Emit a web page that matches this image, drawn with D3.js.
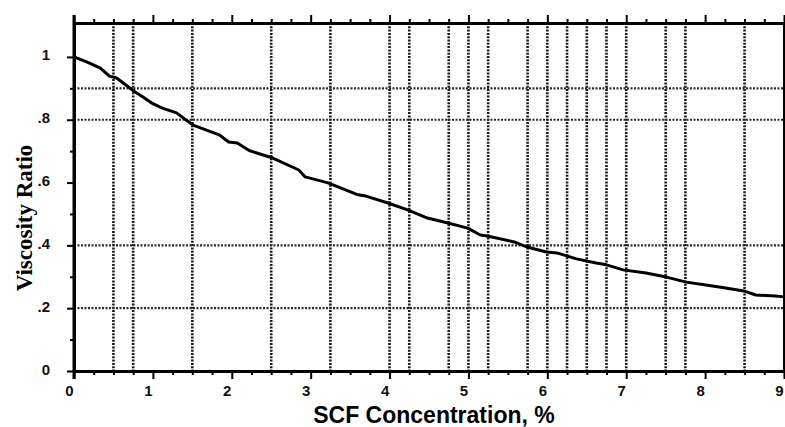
<!DOCTYPE html>
<meta charset="utf-8">
<style>
body { margin: 0; background: #fff; }
.grid { fill: none; stroke: #1a1a1a; stroke-width: 2.6px; stroke-dasharray: 2,1.3; }
.hgrid { fill: none; stroke: #2a2a2a; stroke-width: 2.2px; stroke-dasharray: 2,1.5; }
.curve { fill: none; stroke: #000; stroke-width: 3px; stroke-linejoin: round; }
.axis path, .axis line { stroke: #000; }
.axis path { stroke-width: 3px; }
.axis line { stroke-width: 2px; }
</style>
<body>
<svg id="chart" width="785" height="427"></svg>
</body>
<script src="https://d3js.org/d3.v7.min.js"></script>
<script>

// data
var concentration = [0, 0.16, 0.33, 0.45, 0.54, 0.67, 0.77, 0.87, 0.98, 1.12, 1.30, 1.42, 1.51, 1.67, 1.84, 1.96, 2.07, 2.22,
  2.52, 2.85, 2.93, 3.22, 3.60, 3.70, 3.98, 4.23, 4.48, 4.74, 4.99, 5.15, 5.24, 5.58, 5.74, 5.99, 6.12, 6.37,
  6.62, 6.75, 6.96, 7.25, 7.51, 7.76, 8.01, 8.26, 8.49, 8.64, 8.89, 9.0];
var viscosityRatio = [1.0, .984, .965, .939, .933, .908, .889, .873, .854, .837, .822, .799, .783, .768, .752, .729, .726, .702,
  .678, .640, .618, .599, .561, .557, .535, .513, .487, .471, .455, .433, .430, .411, .395, .379, .376, .357,
  .344, .338, .322, .312, .299, .283, .274, .264, .255, .242, .239, .236];

var xMajor = [0, 1, 2, 3, 4, 5, 6, 7, 8, 9];
var xMinor = [0.25, 0.5, 0.75, 1.25, 1.5, 1.75, 2.25, 2.5, 2.75, 3.25, 3.5, 3.75, 4.25, 4.5, 4.75,
  5.25, 5.5, 5.75, 6.25, 6.5, 6.75, 7.25, 7.5, 7.75, 8.25, 8.5, 8.75];
var xGrid = [0.5, 0.75, 1.5, 2.5, 3.25, 4, 4.25, 4.75, 5, 5.25, 5.75, 6, 6.25, 6.5, 6.75, 7, 7.5, 7.75, 8.5];
var yMajor = [0, 0.2, 0.4, 0.6, 0.8, 1];
var yMinor = [0.1, 0.3, 0.5, 0.7, 0.9];
var yGrid = [0.2, 0.4, 0.8, 0.9];
var yTickLabels = ["0", ".2", ".4", ".6", ".8", "1"];

var plotLeft = 74, plotRight = 784, plotTop = 23, plotBottom = 371;

var x = d3.scaleLinear().domain([0, 9]).range([plotLeft, plotRight]);
var y = d3.scaleLinear().domain([0, 1.108]).range([plotBottom, plotTop]);

var svg = d3.select("#chart");

// grid lines
svg.selectAll(".grid").data(xGrid).enter().append("line")
    .attr("class", "grid")
    .attr("x1", function(d) { return x(d); }).attr("x2", function(d) { return x(d); })
    .attr("y1", plotTop).attr("y2", plotBottom);

svg.selectAll(".hgrid").data(yGrid).enter().append("line")
    .attr("class", "hgrid")
    .attr("x1", plotLeft).attr("x2", plotRight)
    .attr("y1", function(d) { return y(d); }).attr("y2", function(d) { return y(d); });

// the curve
var pts = concentration.map(function(c, i) { return [c, viscosityRatio[i]]; });
var line = d3.line()
    .x(function(d) { return x(d[0]); })
    .y(function(d) { return y(d[1]); });
svg.append("path").datum(pts).attr("class", "curve").attr("d", line);

function labelStyle(sel) {
  sel.selectAll("text")
    .style("font-family", "'Liberation Sans', Arial, sans-serif")
    .style("font-weight", "bold")
    .style("font-size", "15px")
    .style("fill", "#111");
}

// bottom axis
svg.append("g").attr("class", "axis")
    .attr("transform", "translate(0," + plotBottom + ")")
    .call(d3.axisBottom(x).tickValues(xMinor).tickSize(4).tickSizeOuter(0).tickFormat(""));
var xb = svg.append("g").attr("class", "axis")
    .attr("transform", "translate(0," + plotBottom + ")")
    .call(d3.axisBottom(x).tickValues(xMajor).tickSize(8).tickSizeOuter(0).tickFormat(d3.format("d")).tickPadding(6));
xb.selectAll("text").attr("dx", -5);
labelStyle(xb);

// top axis
svg.append("g").attr("class", "axis")
    .attr("transform", "translate(0," + plotTop + ")")
    .call(d3.axisTop(x).tickValues(xMinor).tickSize(4).tickSizeOuter(0).tickFormat(""));
svg.append("g").attr("class", "axis")
    .attr("transform", "translate(0," + plotTop + ")")
    .call(d3.axisTop(x).tickValues(xMajor).tickSize(8).tickSizeOuter(0).tickFormat(""));

// left axis
svg.append("g").attr("class", "axis")
    .attr("transform", "translate(" + plotLeft + ",0)")
    .call(d3.axisLeft(y).tickValues(yMinor).tickSize(4).tickSizeOuter(0).tickFormat(""));
var yl = svg.append("g").attr("class", "axis")
    .attr("transform", "translate(" + plotLeft + ",0)")
    .call(d3.axisLeft(y).tickValues(yMajor).tickSize(7).tickSizeOuter(0)
      .tickFormat(function(d, i) { return yTickLabels[i]; }).tickPadding(17));
yl.selectAll("text").attr("dy", "0.2em");
labelStyle(yl);

// left axis runs past the frame at both ends
svg.append("line").attr("x1", plotLeft).attr("x2", plotLeft).attr("y1", plotTop - 8).attr("y2", plotBottom + 8)
    .attr("stroke", "#000").attr("stroke-width", 3);
// right frame
svg.append("line").attr("x1", plotRight).attr("x2", plotRight).attr("y1", plotTop).attr("y2", plotBottom)
    .attr("stroke", "#000").attr("stroke-width", 2);

// titles
svg.append("text")
    .attr("transform", "translate(32,218) rotate(-90)")
    .attr("text-anchor", "middle")
    .style("font-family", "'Liberation Serif', 'Times New Roman', serif")
    .style("font-weight", "bold")
    .style("font-size", "23px")
    .text("Viscosity Ratio");

svg.append("text")
    .attr("x", 434).attr("y", 423)
    .attr("text-anchor", "middle")
    .style("font-family", "'Liberation Sans', Arial, sans-serif")
    .style("font-weight", "bold")
    .style("font-size", "23px")
    .text("SCF Concentration, %");

</script>
